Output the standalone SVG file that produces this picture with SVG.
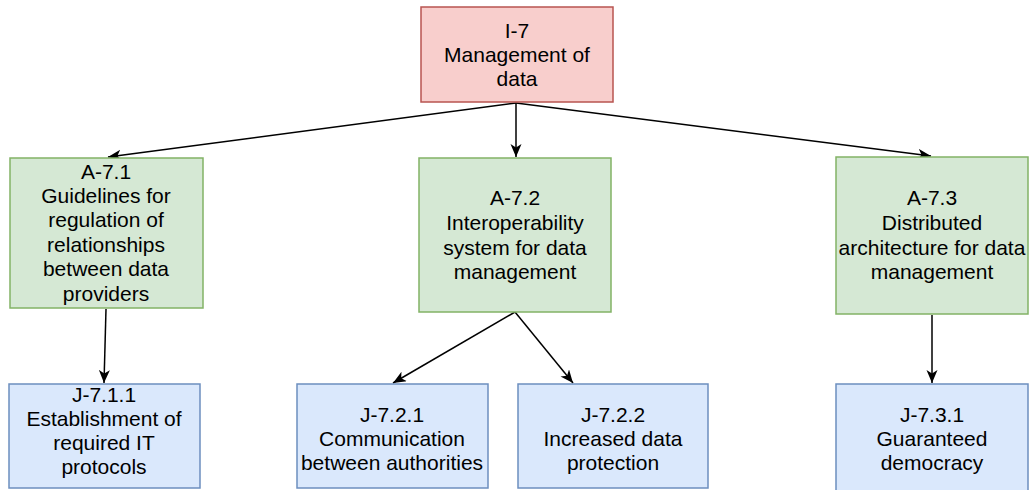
<svg xmlns="http://www.w3.org/2000/svg" width="1030" height="490" viewBox="0 0 1030 490">
  <style>
    .lbl { font-family: "Liberation Sans", Arial, Helvetica, sans-serif; font-size: 21px; fill: #000; text-anchor: middle; }
    .red { fill: #f8cecc; stroke: #b85450; stroke-width: 1.5; }
    .green { fill: #d5e8d4; stroke: #82b366; stroke-width: 1.5; }
    .blue { fill: #dae8fc; stroke: #6c8ebf; stroke-width: 1.5; }
    .edge { fill: none; stroke: #000; stroke-width: 1.5; marker-end: url(#arrow); }
  </style>
  <defs>
    <marker id="arrow" markerUnits="userSpaceOnUse" markerWidth="16" markerHeight="14" refX="13" refY="5.5" orient="auto">
      <path d="M0,0 L13,5.5 L0,11 L3.5,5.5 z" fill="#000"/>
    </marker>
  </defs>

  <rect width="1030" height="490" fill="#fff"/>

  <!-- connectors -->
  <g id="edges">
    <line class="edge" x1="516" y1="103" x2="108" y2="157"/>
    <line class="edge" x1="516" y1="103" x2="516" y2="157"/>
    <line class="edge" x1="516" y1="103" x2="931" y2="156"/>
    <line class="edge" x1="106" y1="309" x2="104" y2="383"/>
    <line class="edge" x1="515" y1="312" x2="393" y2="383"/>
    <line class="edge" x1="515" y1="312" x2="573" y2="383"/>
    <line class="edge" x1="932" y1="315" x2="932" y2="383"/>
  </g>

  <!-- root -->
  <g id="I-7">
    <rect class="red" x="421" y="7" width="192" height="95"/>
    <text class="lbl" x="517" y="38">I-7</text>
    <text class="lbl" x="517" y="62">Management of</text>
    <text class="lbl" x="517" y="86">data</text>
  </g>

  <!-- second level -->
  <g id="A-7.1">
    <rect class="green" x="10" y="158" width="193" height="150"/>
    <text class="lbl" x="106" y="179">A-7.1</text>
    <text class="lbl" x="106" y="203">Guidelines for</text>
    <text class="lbl" x="106" y="227">regulation of</text>
    <text class="lbl" x="106" y="252">relationships</text>
    <text class="lbl" x="106" y="276">between data</text>
    <text class="lbl" x="106" y="301">providers</text>
  </g>

  <g id="A-7.2">
    <rect class="green" x="419" y="158" width="192" height="154"/>
    <text class="lbl" x="515" y="205">A-7.2</text>
    <text class="lbl" x="515" y="230">Interoperability</text>
    <text class="lbl" x="515" y="255">system for data</text>
    <text class="lbl" x="515" y="279">management</text>
  </g>

  <g id="A-7.3">
    <rect class="green" x="836" y="157" width="192" height="157"/>
    <text class="lbl" x="932" y="205">A-7.3</text>
    <text class="lbl" x="932" y="230">Distributed</text>
    <text class="lbl" x="932" y="255">architecture for data</text>
    <text class="lbl" x="932" y="279">management</text>
  </g>

  <!-- third level -->
  <g id="J-7.1.1">
    <rect class="blue" x="9" y="384" width="191" height="104"/>
    <text class="lbl" x="104" y="402">J-7.1.1</text>
    <text class="lbl" x="104" y="426">Establishment of</text>
    <text class="lbl" x="104" y="450">required IT</text>
    <text class="lbl" x="104" y="474">protocols</text>
  </g>

  <g id="J-7.2.1">
    <rect class="blue" x="297" y="384" width="191" height="104"/>
    <text class="lbl" x="392" y="422">J-7.2.1</text>
    <text class="lbl" x="392" y="446">Communication</text>
    <text class="lbl" x="392" y="470">between authorities</text>
  </g>

  <g id="J-7.2.2">
    <rect class="blue" x="518" y="384" width="190" height="104"/>
    <text class="lbl" x="613" y="422">J-7.2.2</text>
    <text class="lbl" x="613" y="446">Increased data</text>
    <text class="lbl" x="613" y="470">protection</text>
  </g>

  <g id="J-7.3.1">
    <rect class="blue" x="836" y="384" width="192" height="112"/>
    <text class="lbl" x="932" y="422">J-7.3.1</text>
    <text class="lbl" x="932" y="446">Guaranteed</text>
    <text class="lbl" x="932" y="470">democracy</text>
  </g>
</svg>
